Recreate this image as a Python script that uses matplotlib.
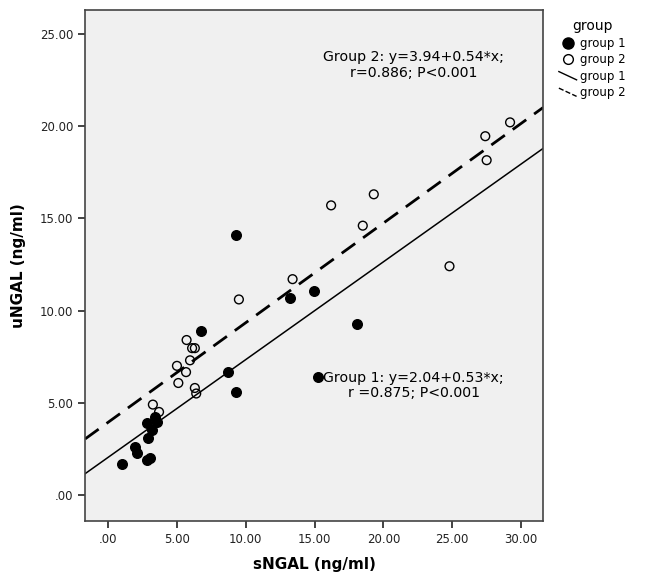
import matplotlib
matplotlib.use('Agg')
import matplotlib.pyplot as plt
from matplotlib.lines import Line2D
from matplotlib.legend_handler import HandlerBase
from matplotlib.ticker import FuncFormatter, MultipleLocator
import numpy as np

# group 1 (filled)
g1_x = [1.02, 1.96, 2.1, 2.8, 3.05, 2.9, 3.2, 2.8, 3.4, 3.55,
        8.7, 9.3, 6.75, 9.3, 13.2, 14.95, 18.1, 15.25]
g1_y = [1.68, 2.6, 2.3, 1.9, 2.0, 3.1, 3.5, 3.9, 4.2, 3.95,
        6.66, 5.6, 8.9, 14.1, 10.7, 11.05, 9.26, 6.4]
# group 2 (open)
g2_x = [3.25, 3.7, 5.0, 5.1, 5.66, 5.7, 5.95, 6.1, 6.3, 6.3, 6.4,
        9.5, 13.4, 16.2, 18.5, 19.3, 24.8, 27.4, 27.5, 29.2]
g2_y = [4.9, 4.5, 7.0, 6.07, 6.66, 8.4, 7.3, 7.96, 7.96, 5.8, 5.5,
        10.6, 11.7, 15.7, 14.6, 16.3, 12.4, 19.45, 18.15, 20.2]

fit1 = (2.04, 0.53)
fit2 = (3.94, 0.54)
xlim = (-1.67, 31.6)
ylim = (-1.41, 26.3)


class DiagHandler(HandlerBase):
    def create_artists(self, legend, orig_handle, xdescent, ydescent,
                       width, height, fontsize, trans):
        ln = Line2D([-xdescent, -xdescent + width], [height, 0],
                    color='black', lw=1, linestyle=orig_handle.get_linestyle())
        ln.set_transform(trans)
        return [ln]


fig = plt.figure(figsize=(6.45, 5.73), dpi=100)
ax = fig.add_axes([0.132, 0.0908, 0.71, 0.892])
ax.set_facecolor('#f0f0f0')

xs = np.array(xlim)
ax.plot(xs, fit1[0] + fit1[1] * xs, color='black', lw=1.1, zorder=2)
ax.plot(xs, fit2[0] + fit2[1] * xs, color='black', lw=2, dashes=(6, 3.5), zorder=2)

ax.scatter(g1_x, g1_y, s=48, facecolor='black', edgecolor='black', zorder=3)
ax.scatter(g2_x, g2_y, s=40, facecolor='none', edgecolor='black', linewidths=1, zorder=3)

ax.set_xlim(xlim)
ax.set_ylim(ylim)
ax.xaxis.set_major_locator(MultipleLocator(5))
ax.yaxis.set_major_locator(MultipleLocator(5))
fmt = FuncFormatter(lambda v, p: '.00' if abs(v) < 1e-9 else '{:.2f}'.format(v))
ax.xaxis.set_major_formatter(fmt)
ax.yaxis.set_major_formatter(fmt)
ax.tick_params(direction='out', length=5, width=1.2, labelsize=8.5, colors='#222222')
for sp in ax.spines.values():
    sp.set_color('#444444')
    sp.set_linewidth(1.2)

ax.set_xlabel('sNGAL (ng/ml)', fontsize=11, fontweight='bold', labelpad=8)
ax.set_ylabel('uNGAL (ng/ml)', fontsize=11, fontweight='bold', labelpad=10)

ax.text(22.2, 23.3, 'Group 2: y=3.94+0.54*x;\nr=0.886; P<0.001', ha='center', va='center',
        fontsize=10.2, linespacing=1.15)
ax.text(22.2, 5.93, 'Group 1: y=2.04+0.53*x;\nr =0.875; P<0.001', ha='center', va='center',
        fontsize=10.2, linespacing=1.15)

handles = [Line2D([], [], marker='o', color='black', linestyle='none', markersize=8),
           Line2D([], [], marker='o', markerfacecolor='none', markeredgecolor='black',
                  linestyle='none', markersize=7),
           Line2D([], [], color='black', linestyle='-'),
           Line2D([], [], color='black', linestyle='--')]
labels = ['group 1', 'group 2', 'group 1', 'group 2']
leg = fig.legend(handles, labels, title='group', loc='upper left',
                 bbox_to_anchor=(0.85, 0.985), frameon=False, fontsize=8.5,
                 title_fontsize=10, handlelength=1.5, handletextpad=0.3,
                 labelspacing=0.3,
                 handler_map={handles[2]: DiagHandler(), handles[3]: DiagHandler()})

plt.savefig('out.png', dpi=100)
